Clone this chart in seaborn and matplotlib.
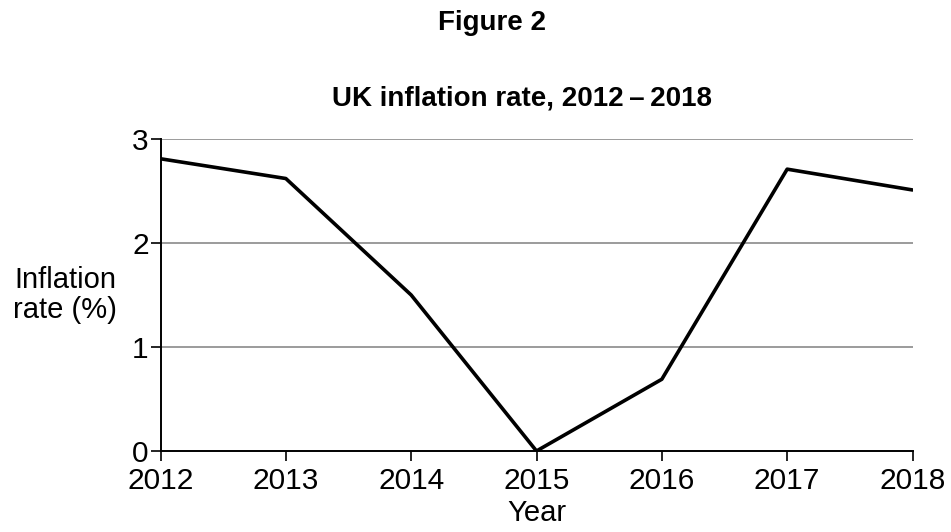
import matplotlib
matplotlib.use("Agg")
import matplotlib.pyplot as plt
import seaborn as sns
import pandas as pd

years = [2012, 2013, 2014, 2015, 2016, 2017, 2018]
inflation = [2.81, 2.62, 1.50, 0.00, 0.69, 2.71, 2.51]
y_ticks = [0, 1, 2, 3]

sns.set_theme(style="white")
plt.rcParams["font.family"] = ["Liberation Sans", "DejaVu Sans"]

df = pd.DataFrame({"Year": years, "Inflation": inflation})

fig = plt.figure(figsize=(9.51, 5.32), dpi=100)
ax = fig.add_axes([160.5 / 951, 1 - 451 / 532, (912.5 - 160.5) / 951, (451 - 139) / 532])

for yv in y_ticks[1:]:
    ax.axhline(yv, color="#8a8a8a", lw=1.2, zorder=1)

sns.lineplot(data=df, x="Year", y="Inflation", ax=ax, color="black", lw=2.6, zorder=3)

ax.set_xlim(2012, 2018)
ax.set_ylim(0, 3)
ax.set_xticks(years)
ax.set_xticklabels([str(y) for y in years])
ax.set_yticks(y_ticks)
ax.set_yticklabels([str(v) for v in y_ticks])
ax.tick_params(axis="both", which="major", bottom=True, left=True, top=False, right=False,
               direction="out", length=7, width=1.2, color="black",
               labelsize=21.5, labelcolor="black")
ax.tick_params(axis="x", pad=4.5)
ax.tick_params(axis="y", pad=1.5)

for s in ["top", "right"]:
    ax.spines[s].set_visible(False)
for s in ["left", "bottom"]:
    ax.spines[s].set_color("black")
    ax.spines[s].set_linewidth(1.4)
ax.spines["bottom"].set_zorder(4)

ax.set_xlabel("Year", fontsize=21, color="black", labelpad=3)
ax.set_ylabel("")
fig.text(65 / 951, 1 - 295 / 532, "Inflation\nrate (%)", fontsize=21, color="black",
         ha="center", va="center", linespacing=1.1)

fig.text(492 / 951, 1 - 23 / 532, "Figure 2", fontsize=20, fontweight="bold",
         ha="center", va="center", color="black")
fig.text(522 / 951, 1 - 98 / 532, "UK inflation rate, 2012\u2009\u2013\u20092018", fontsize=20,
         fontweight="bold", ha="center", va="center", color="black")

fig.savefig("out.png", dpi=100)
